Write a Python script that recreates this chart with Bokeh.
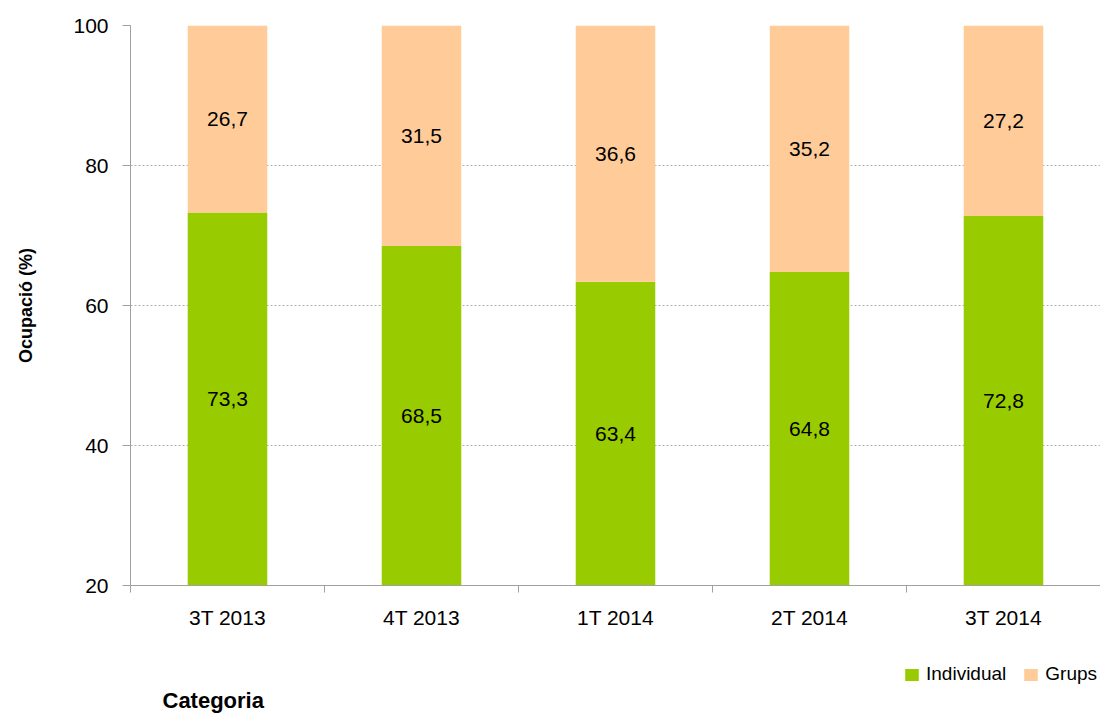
from bokeh.plotting import figure
from bokeh.layouts import column
from bokeh.models import (ColumnDataSource, FixedTicker, Range1d, Legend, LegendItem,
                          LabelSet, Label)
from bokeh.core.properties import value
from bokeh.embed import file_html
from bokeh.resources import INLINE

categories = ["3T 2013", "4T 2013", "1T 2014", "2T 2014", "3T 2014"]
individual = [73.3, 68.5, 63.4, 64.8, 72.8]
grups = [26.7, 31.5, 36.6, 35.2, 27.2]
y_ticks = [20, 40, 60, 80, 100]
series_names = ["Individual", "Grups"]

YMIN, YMAX = 20, 100
n = len(categories)
xc = [i + 0.5 for i in range(n)]
top_gr = [a + b for a, b in zip(individual, grups)]
lab_ind_y = [(YMIN + a) / 2 for a in individual]
lab_gr_y = [(a + t) / 2 for a, t in zip(individual, top_gr)]

src = ColumnDataSource(dict(
    x=xc, ind=individual, gr=top_gr, base=[0] * n,
    ly_ind=lab_ind_y, ly_gr=lab_gr_y,
    t_ind=[f"{v:.1f}".replace(".", ",") for v in individual],
    t_gr=[f"{v:.1f}".replace(".", ",") for v in grups],
))

FONT = "Liberation Sans"
GREEN = "#99CC00"
PEACH = "#FFCC99"
AXC = "#a0a0a0"
W = 1100

p = figure(width=W, height=640, output_backend="svg", toolbar_location=None,
           x_range=Range1d(0, n), y_range=Range1d(YMIN, YMAX),
           min_border_left=130, min_border_top=25, min_border_right=0,
           min_border_bottom=55)
p.outline_line_color = None
p.background_fill_color = "white"
p.border_fill_color = "white"

p.vbar(x="x", width=0.41, bottom="base", top="ind", source=src,
       fill_color=GREEN, line_color=None)
p.vbar(x="x", width=0.41, bottom="ind", top="gr", source=src,
       fill_color=PEACH, line_color=None)

for col, ycol in (("t_ind", "ly_ind"), ("t_gr", "ly_gr")):
    ls = LabelSet(x="x", y=ycol, text=col, source=src, text_align="center",
                  text_baseline="middle", text_font=value(FONT),
                  text_font_size=value("21px"), text_color="black")
    p.add_layout(ls)

# x axis
xa = p.xaxis[0]
xa.ticker = FixedTicker(ticks=xc, minor_ticks=list(range(n + 1)))
xa.major_label_overrides = {x: c for x, c in zip(xc, categories)}
xa.major_tick_out = 0
xa.major_tick_in = 0
xa.minor_tick_out = 7
xa.minor_tick_in = 0
xa.minor_tick_line_color = AXC
xa.axis_line_color = AXC
xa.major_label_standoff = 13
xa.major_label_text_font = FONT
xa.major_label_text_font_size = "21px"
xa.major_label_text_color = "black"

# y axis
ya = p.yaxis[0]
ya.ticker = FixedTicker(ticks=y_ticks)
ya.major_tick_out = 8
ya.major_tick_in = 0
ya.minor_tick_line_color = None
ya.major_tick_line_color = AXC
ya.axis_line_color = AXC
ya.major_label_standoff = 14
ya.major_label_text_font = FONT
ya.major_label_text_font_size = "21px"
ya.major_label_text_color = "black"
ya.axis_label = "Ocupació (%)"
ya.axis_label_text_font = FONT
ya.axis_label_text_font_style = "bold"
ya.axis_label_text_font_size = "18px"
ya.axis_label_text_color = "black"
ya.axis_label_standoff = 34

p.xgrid.grid_line_color = None
p.ygrid.grid_line_color = "#b0b0b0"
p.ygrid.grid_line_dash = "2 2"
p.ygrid.grid_line_width = 1

# footer with legend and category title (its frame is aligned with the main frame)
FH = 73
f = figure(width=W, height=FH, output_backend="svg", toolbar_location=None,
           x_range=Range1d(-3, -2), y_range=Range1d(0, 1),
           x_axis_location=None, y_axis_location=None,
           min_border_left=0, min_border_right=0, min_border_top=0,
           min_border_bottom=0)
f.grid.visible = False
f.outline_line_color = None
f.background_fill_color = "white"
f.border_fill_color = "white"

# legend proxies: zero-height bars lying outside the footer's visible range
d_ind = f.vbar(x="x", bottom="ind", top="ind", width=0.41, source=src,
               fill_color=GREEN, line_color=None)
d_gr = f.vbar(x="x", bottom="gr", top="gr", width=0.41, source=src,
              fill_color=PEACH, line_color=None)

legend = Legend(items=[LegendItem(label=series_names[0], renderers=[d_ind]),
                       LegendItem(label=series_names[1], renderers=[d_gr])],
                orientation="horizontal", location=(773, 28),
                label_text_font=FONT, label_text_font_size="19px",
                label_text_color="black",
                glyph_width=17, glyph_height=15, spacing=16, padding=0,
                margin=0, border_line_color=None, background_fill_alpha=0,
                label_standoff=6)
f.add_layout(legend, "center")

f.add_layout(Label(x=32, y=13, x_units="screen", y_units="screen",
                   text="Categoria", text_font=FONT,
                   text_font_style="bold", text_font_size="22px",
                   text_color="black", text_baseline="middle",
                   text_align="left"))

open("out.html", "w").write(file_html(column(p, f, spacing=0), INLINE))
